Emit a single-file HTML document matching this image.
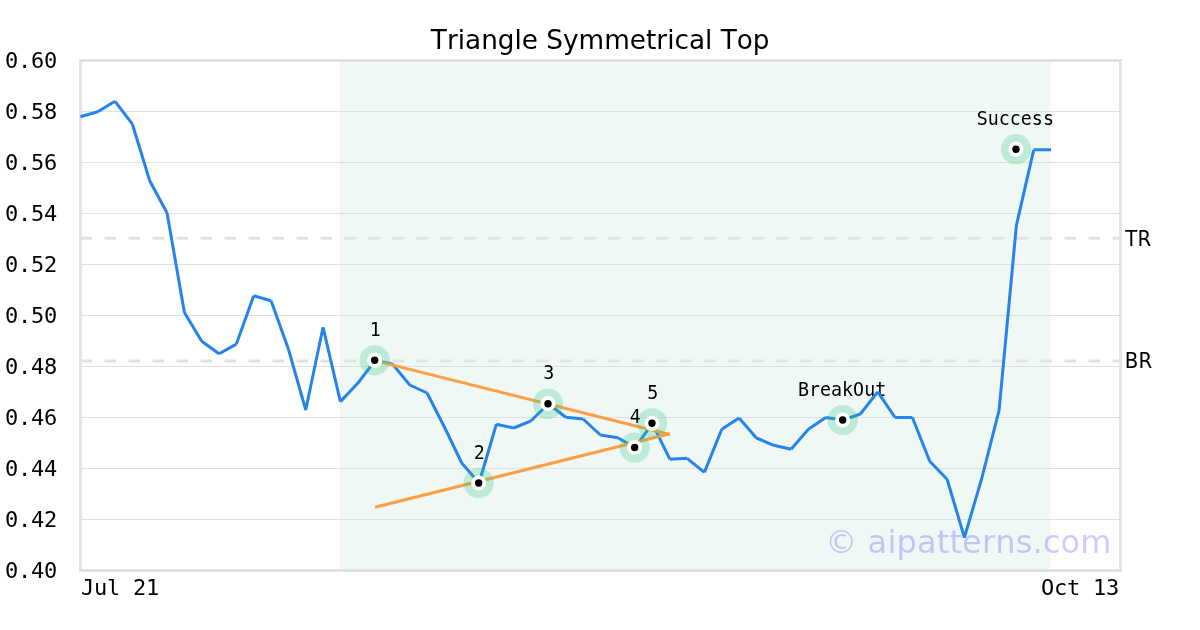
<!DOCTYPE html>
<html lang="en">
<head>
<meta charset="utf-8">
<title>Triangle Symmetrical Top</title>
<style>
html,body{margin:0;padding:0;background:#fff;}
body{width:1200px;height:630px;overflow:hidden;}
svg{display:block;}
.sans{font-family:"DejaVu Sans","Liberation Sans",sans-serif;}
.mono{font-family:"DejaVu Sans Mono","Liberation Mono",monospace;}
</style>
</head>
<body>
<svg width="1200" height="630" viewBox="0 0 1200 630">
<rect width="1200" height="630" fill="#fff"/>
<rect x="340" y="60" width="710.5" height="510" fill="#f0f8f5"/>
<rect x="80.5" y="60.5" width="1040" height="510" fill="none" stroke="#e4e4e4" stroke-width="3"/>
<g stroke="#dbdbdb" stroke-width="1" shape-rendering="crispEdges"><line x1="79" x2="1122" y1="60.5" y2="60.5"/><line x1="79" x2="1122" y1="570.5" y2="570.5"/></g>
<g stroke="#e0e0e0" stroke-width="1" shape-rendering="crispEdges"><line x1="79" x2="1122" y1="111.5" y2="111.5"/><line x1="79" x2="1122" y1="162.5" y2="162.5"/><line x1="79" x2="1122" y1="213.5" y2="213.5"/><line x1="79" x2="1122" y1="264.5" y2="264.5"/><line x1="79" x2="1122" y1="315.5" y2="315.5"/><line x1="79" x2="1122" y1="366.5" y2="366.5"/><line x1="79" x2="1122" y1="417.5" y2="417.5"/><line x1="79" x2="1122" y1="468.5" y2="468.5"/><line x1="79" x2="1122" y1="519.5" y2="519.5"/></g>
<g stroke="#e2e2e2" stroke-width="3" stroke-dasharray="11.7 12.3" fill="none"><line x1="80.5" x2="1120" y1="238.3" y2="238.3"/><line x1="80.5" x2="1120" y1="361" y2="361"/></g>
<g class="mono" font-size="18.33" fill="#000" text-anchor="middle"><text transform="translate(375.37 335.8) scale(1 1.06)">1</text><text transform="translate(479.37 458.5) scale(1 1.06)">2</text><text transform="translate(548.70 379.2) scale(1 1.06)">3</text><text transform="translate(635.37 423.0) scale(1 1.06)">4</text><text transform="translate(652.70 398.8) scale(1 1.06)">5</text><text transform="translate(842.07 395.5) scale(1 1.06)" letter-spacing="0">BreakOut</text><text transform="translate(1015.30 124.7) scale(1 1.06)">Success</text></g>
<path d="M80.40 116.7L97.73 111.7 M97.73 111.7L115.07 101.3 M115.07 101.3L132.40 124.2 M132.40 124.2L149.73 180.8 M149.73 180.8L167.07 213.0 M167.07 213.0L184.40 312.5 M184.40 312.5L201.73 341.2 M201.73 341.2L219.07 353.8 M219.07 353.8L236.40 344.1 M236.40 344.1L253.73 295.8 M253.73 295.8L271.07 300.8 M271.07 300.8L288.40 349.0 M288.40 349.0L305.73 410.0 M305.73 410.0L323.07 327.3 M323.07 327.3L340.40 401.6 M340.40 401.6L357.73 383.3 M357.73 383.3L375.07 360.5 M375.07 360.5L392.40 363.9 M392.40 363.9L409.73 385.0 M409.73 385.0L427.07 393.0 M427.07 393.0L444.40 427.0 M444.40 427.0L461.73 463.0 M461.73 463.0L479.07 483.0 M479.07 483.0L496.40 424.2 M496.40 424.2L513.73 428.0 M513.73 428.0L531.07 420.8 M531.07 420.8L548.40 403.7 M548.40 403.7L565.73 417.3 M565.73 417.3L583.07 419.0 M583.07 419.0L600.40 435.0 M600.40 435.0L617.73 437.8 M617.73 437.8L635.07 447.5 M635.07 447.5L652.40 423.3 M652.40 423.3L669.73 459.2 M669.73 459.2L687.07 458.3 M687.07 458.3L704.40 472.4 M704.40 472.4L721.73 429.3 M721.73 429.3L739.07 418.0 M739.07 418.0L756.40 438.0 M756.40 438.0L773.73 445.3 M773.73 445.3L791.07 449.2 M791.07 449.2L808.40 429.2 M808.40 429.2L825.73 417.5 M825.73 417.5L843.07 420.0 M843.07 420.0L860.40 414.0 M860.40 414.0L877.73 391.9 M877.73 391.9L895.07 417.5 M895.07 417.5L912.40 417.5 M912.40 417.5L929.73 461.3 M929.73 461.3L947.07 479.2 M947.07 479.2L964.40 537.5 M964.40 537.5L981.73 478.5 M981.73 478.5L999.07 410.3 M999.07 410.3L1016.40 225.3 M1016.40 225.3L1033.73 149.8 M1033.73 149.8L1051.07 149.8" fill="none" stroke="#2683eb" stroke-width="3" stroke-linecap="butt"/>
<g stroke="#ff9f43" stroke-width="3" stroke-linecap="butt"><line x1="374.97" y1="360.6" x2="669.83" y2="434.5"/><line x1="374.97" y1="507.3" x2="669.83" y2="433.7"/></g>
<circle cx="374.67" cy="360.3" r="15.1" fill="#24c47d" fill-opacity="0.25"/><circle cx="478.67" cy="483" r="15.1" fill="#24c47d" fill-opacity="0.25"/><circle cx="548.00" cy="403.7" r="15.1" fill="#24c47d" fill-opacity="0.25"/><circle cx="634.67" cy="447.5" r="15.1" fill="#24c47d" fill-opacity="0.25"/><circle cx="652.00" cy="423.3" r="15.1" fill="#24c47d" fill-opacity="0.25"/><circle cx="842.67" cy="420" r="15.1" fill="#24c47d" fill-opacity="0.25"/><circle cx="1016.00" cy="149.2" r="15.1" fill="#24c47d" fill-opacity="0.25"/><circle cx="374.67" cy="360.3" r="7.6" fill="#fff"/><circle cx="374.67" cy="360.3" r="3.7" fill="#000"/><circle cx="478.67" cy="483" r="7.6" fill="#fff"/><circle cx="478.67" cy="483" r="3.7" fill="#000"/><circle cx="548.00" cy="403.7" r="7.6" fill="#fff"/><circle cx="548.00" cy="403.7" r="3.7" fill="#000"/><circle cx="634.67" cy="447.5" r="7.6" fill="#fff"/><circle cx="634.67" cy="447.5" r="3.7" fill="#000"/><circle cx="652.00" cy="423.3" r="7.6" fill="#fff"/><circle cx="652.00" cy="423.3" r="3.7" fill="#000"/><circle cx="842.67" cy="420" r="7.6" fill="#fff"/><circle cx="842.67" cy="420" r="3.7" fill="#000"/><circle cx="1016.00" cy="149.2" r="7.6" fill="#fff"/><circle cx="1016.00" cy="149.2" r="3.7" fill="#000"/>
<text class="sans" x="600.2" y="48.7" font-size="26.3" style="font-kerning:none" text-anchor="middle" fill="#000">Triangle Symmetrical Top</text>
<g class="mono" font-size="22" fill="#000" letter-spacing="-0.245"><text x="5" y="68">0.60</text><text x="5" y="119">0.58</text><text x="5" y="170">0.56</text><text x="5" y="221">0.54</text><text x="5" y="272">0.52</text><text x="5" y="323">0.50</text><text x="5" y="374">0.48</text><text x="5" y="425">0.46</text><text x="5" y="476">0.44</text><text x="5" y="527">0.42</text><text x="5" y="578">0.40</text><text x="81" y="595">Jul 21</text><text x="1118.9" y="595" text-anchor="end">Oct 13</text></g>
<g class="sans" font-size="22" fill="#000" text-anchor="middle" style="font-kerning:none"><text transform="translate(1138.2 246) scale(0.9 1)">TR</text><text transform="translate(1138.5 368) scale(0.9 1)">BR</text></g>
<text class="sans" x="1111.7" y="553" font-size="32" letter-spacing="0.16" text-anchor="end" fill="#0000ff" fill-opacity="0.2" style="font-kerning:none">© aipatterns.com</text>
</svg>
</body>
</html>
